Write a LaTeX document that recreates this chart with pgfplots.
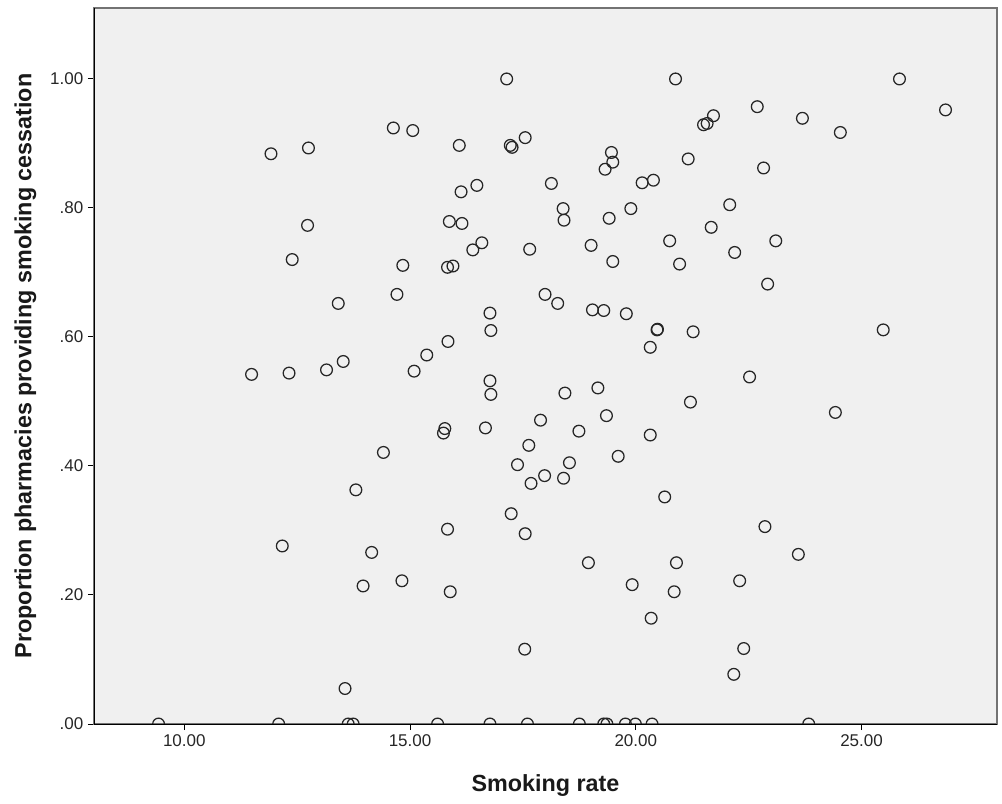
\documentclass[border=0pt]{standalone}
\usepackage{pgfplots}
\pgfplotsset{compat=1.18}
\usepackage{pgfplotstable}
\usepackage{fontspec}
\setmainfont{Liberation Sans}
\definecolor{bgc}{HTML}{F0F0F0}
\begin{document}
\begin{tikzpicture}
\pgfplotstableread{
x y
9.43 0
12.09 0
13.63 0
13.74 0
15.61 0
16.77 0
17.60 0
18.75 0
19.29 0
19.36 0
19.77 0
19.99 0
20.36 0
23.83 0
13.56 0.055
22.17 0.077
17.54 0.116
22.39 0.117
20.34 0.164
15.89 0.205
20.85 0.205
13.96 0.214
19.92 0.216
14.82 0.222
22.30 0.222
18.95 0.250
20.90 0.250
23.60 0.263
14.15 0.266
12.17 0.276
17.55 0.295
15.83 0.302
22.86 0.306
17.24 0.326
20.64 0.352
13.80 0.363
17.68 0.373
18.40 0.381
17.98 0.385
17.38 0.402
18.53 0.405
19.61 0.415
14.41 0.421
17.63 0.432
20.32 0.448
15.74 0.451
18.74 0.454
15.77 0.458
16.67 0.459
17.89 0.471
19.35 0.478
24.42 0.483
21.21 0.499
16.79 0.511
18.43 0.513
19.16 0.521
16.77 0.532
22.52 0.538
11.49 0.542
12.32 0.544
15.09 0.547
13.15 0.549
13.52 0.562
15.37 0.572
20.32 0.584
15.84 0.593
21.27 0.608
16.79 0.610
20.47 0.611
20.48 0.612
25.48 0.611
19.79 0.636
16.77 0.637
19.29 0.641
19.04 0.642
13.41 0.652
18.27 0.652
14.71 0.666
17.99 0.666
22.92 0.682
15.83 0.708
15.95 0.710
14.84 0.711
20.97 0.713
19.49 0.717
12.39 0.720
22.19 0.731
16.39 0.735
17.65 0.736
19.01 0.742
16.59 0.746
23.10 0.749
20.75 0.749
21.67 0.770
12.73 0.773
16.15 0.776
15.87 0.779
18.41 0.781
19.41 0.784
18.39 0.799
19.89 0.799
22.08 0.805
16.13 0.825
16.48 0.835
18.13 0.838
20.14 0.839
20.39 0.843
19.32 0.860
22.83 0.862
19.49 0.871
21.16 0.876
11.92 0.884
19.46 0.886
12.75 0.893
17.26 0.894
16.09 0.897
17.22 0.897
17.55 0.909
24.53 0.917
15.06 0.920
14.63 0.924
21.50 0.929
21.58 0.931
23.69 0.939
21.72 0.943
26.86 0.952
22.69 0.957
17.14 1.000
20.88 1.000
25.84 1.000
}\data
\begin{axis}[
  scale only axis, width=677.25pt, height=537pt,
  xmin=8, xmax=28, ymin=0, ymax=1.11,
  axis background/.style={fill=bgc},
  axis line style={draw=black!55, line width=1.1pt},
  xtick={10,15,20,25}, xticklabels={10.00,15.00,20.00,25.00},
  ytick={0,0.2,0.4,0.6,0.8,1.0}, yticklabels={.00,.20,.40,.60,.80,1.00},
  tick align=outside, tick pos=left, major tick length=4.5pt,
  tick style={black, line width=0.75pt},
  ticklabel style={font=\fontsize{12.75}{14}\selectfont, text=black!85},
  xlabel={Smoking rate},
  ylabel={Proportion pharmacies providing smoking cessation},
  label style={font=\fontsize{17.5}{20}\selectfont\bfseries, text=black!90},
  xlabel style={at={(axis description cs:0.5,-0.0866)}, anchor=center},
  ylabel style={at={(axis description cs:-0.0760,0.5)}, anchor=center},
  clip marker paths=true,
]
\addplot[only marks, mark=o, mark size=4.4pt,
  mark options={line width=0.95pt, draw=black!85}] table {\data};
\end{axis}
\draw[black, line width=0.75pt] (0,0) -- (0,537pt);
\draw[black, line width=0.75pt] (0,0) -- (677.25pt,0);
\path (-70.5pt,-59.25pt) rectangle (681pt,543pt);
\end{tikzpicture}
\end{document}
